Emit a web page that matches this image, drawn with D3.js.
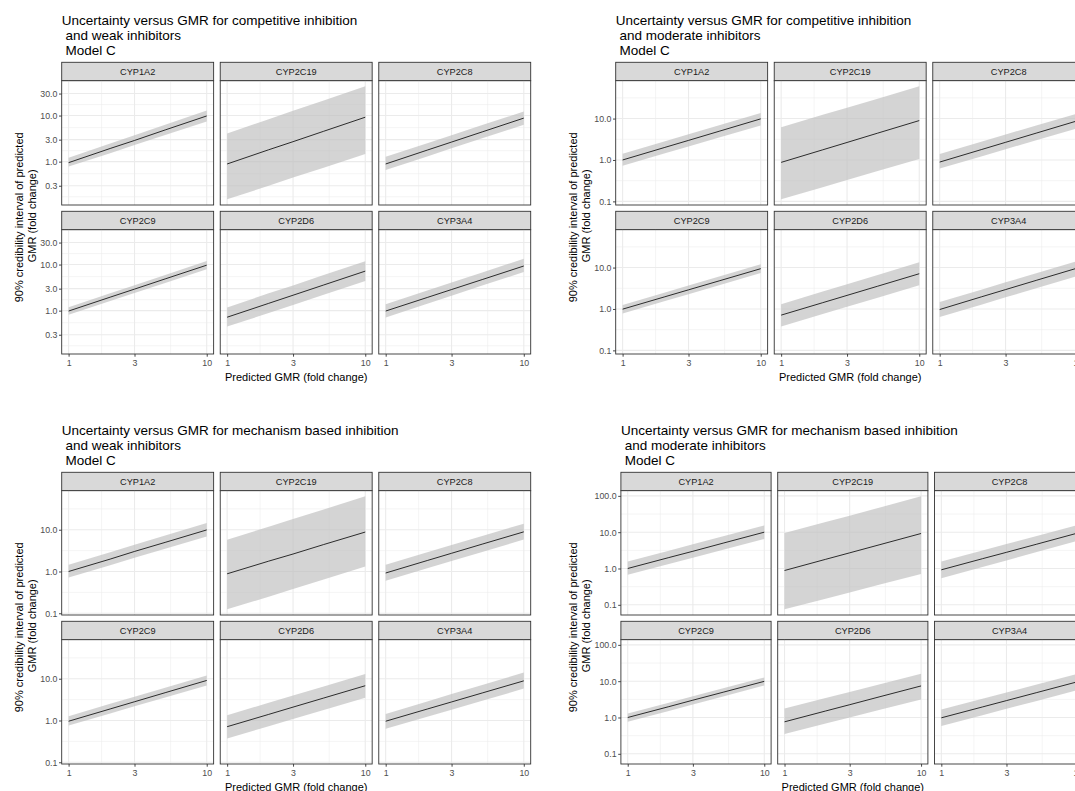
<!DOCTYPE html>
<html>
<head>
<meta charset="utf-8">
<script src="https://cdn.jsdelivr.net/npm/d3@7"></script>
<style>
  body { margin: 0; background: #ffffff; }
  text { font-family: "Liberation Sans", Arial, Helvetica, sans-serif; }
</style>
</head>
<body>
<svg id="chart" width="1075" height="791"></svg>
<script>
// Predicted GMR (fold change) at which the posterior summaries are tabulated
const gmrGrid = [1, 2, 3, 5, 10];
const enzymes = ["CYP1A2", "CYP2C19", "CYP2C8", "CYP2C9", "CYP2D6", "CYP3A4"];
const xTicks = [1, 3, 10];
const xTickLabels = ["1", "3", "10"];

// Competitive inhibition, weak inhibitors (rows follow `enzymes`)
const compWeakMedian = [
  [0.95, 1.93, 2.88, 4.87, 9.8],
  [0.89, 1.81, 2.71, 4.56, 9.2],
  [0.89, 1.78, 2.66, 4.42, 8.8],
  [0.98, 1.96, 2.93, 4.88, 9.7],
  [0.72, 1.44, 2.16, 3.6, 7.2],
  [0.98, 1.93, 2.87, 4.72, 9.3]
];
const compWeakLower = [
  [0.78, 1.53, 2.29, 3.77, 7.4],
  [0.152, 0.30, 0.45, 0.74, 1.47],
  [0.66, 1.30, 1.94, 3.2, 6.3],
  [0.81, 1.61, 2.41, 3.99, 7.9],
  [0.45, 0.89, 1.33, 2.2, 4.4],
  [0.71, 1.41, 2.10, 3.49, 6.9]
];
const compWeakUpper = [
  [1.22, 2.47, 3.75, 6.3, 12.8],
  [4.1, 8.3, 12.7, 21.1, 43],
  [1.28, 2.52, 3.76, 6.2, 12.2],
  [1.18, 2.37, 3.55, 5.92, 11.9],
  [1.17, 2.38, 3.52, 5.95, 11.8],
  [1.37, 2.72, 4.07, 6.75, 13.4]
];
const compWeakYTicks = [0.3, 1, 3, 10, 30];
const compWeakYLabels = ["0.3", "1.0", "3.0", "10.0", "30.0"];

// Competitive inhibition, moderate inhibitors
const compModMedian = [
  [1.0, 1.99, 2.97, 4.94, 9.85],
  [0.875, 1.76, 2.65, 4.45, 8.95],
  [0.89, 1.78, 2.67, 4.45, 8.9],
  [0.99, 1.95, 2.90, 4.77, 9.4],
  [0.71, 1.42, 2.13, 3.55, 7.1],
  [0.97, 1.96, 2.94, 4.91, 9.8]
];
const compModLower = [
  [0.73, 1.43, 2.12, 3.47, 6.8],
  [0.112, 0.22, 0.33, 0.54, 1.06],
  [0.62, 1.22, 1.82, 3.0, 5.9],
  [0.78, 1.54, 2.28, 3.76, 7.4],
  [0.38, 0.76, 1.13, 1.88, 3.75],
  [0.64, 1.27, 1.91, 3.16, 6.3]
];
const compModUpper = [
  [1.42, 2.81, 4.19, 6.92, 13.7],
  [6.2, 12.3, 18.3, 30.3, 60],
  [1.40, 2.76, 4.12, 6.8, 13.4],
  [1.25, 2.47, 3.68, 6.06, 12],
  [1.30, 2.63, 3.96, 6.66, 13.5],
  [1.48, 2.93, 4.40, 7.3, 14.5]
];
const compModYTicks = [0.1, 1, 10];
const compModYLabels = ["0.1", "1.0", "10.0"];

// Mechanism based inhibition, weak inhibitors
const mbiWeakMedian = [
  [1.0, 1.98, 3.02, 4.98, 9.9],
  [0.88, 1.77, 2.62, 4.42, 8.8],
  [0.92, 1.83, 2.73, 4.52, 8.9],
  [0.96, 1.89, 2.81, 4.63, 9.1],
  [0.71, 1.40, 2.09, 3.45, 6.8],
  [0.96, 1.88, 2.78, 4.56, 8.9]
];
const mbiWeakLower = [
  [0.72, 1.42, 2.12, 3.5, 6.9],
  [0.124, 0.25, 0.38, 0.64, 1.32],
  [0.60, 1.19, 1.78, 2.93, 5.8],
  [0.76, 1.48, 2.18, 3.56, 6.9],
  [0.37, 0.73, 1.08, 1.78, 3.5],
  [0.63, 1.23, 1.81, 2.97, 5.8]
];
const mbiWeakUpper = [
  [1.45, 2.9, 4.35, 7.25, 14.5],
  [5.75, 11.8, 18.0, 30.5, 63],
  [1.45, 2.88, 4.3, 7.1, 14.0],
  [1.27, 2.5, 3.71, 6.1, 12],
  [1.34, 2.65, 3.95, 6.5, 12.9],
  [1.44, 2.86, 4.28, 7.1, 14.1]
];
const mbiWeakYTicks = [0.1, 1, 10];
const mbiWeakYLabels = ["0.1", "1.0", "10.0"];

// Mechanism based inhibition, moderate inhibitors
const mbiModMedian = [
  [1.0, 2.0, 2.98, 5.0, 10],
  [0.88, 1.79, 2.7, 4.54, 9.2],
  [0.92, 1.86, 2.79, 4.68, 9.5],
  [1.0, 1.99, 3.0, 4.97, 9.9],
  [0.76, 1.51, 2.25, 3.74, 7.4],
  [0.98, 1.95, 2.92, 4.86, 9.7]
];
const mbiModLower = [
  [0.67, 1.33, 1.98, 3.28, 6.5],
  [0.075, 0.148, 0.22, 0.36, 0.71],
  [0.54, 1.1, 1.67, 2.84, 5.8],
  [0.76, 1.52, 2.28, 3.8, 7.6],
  [0.35, 0.68, 1.0, 1.63, 3.15],
  [0.58, 1.16, 1.73, 2.86, 5.7]
];
const mbiModUpper = [
  [1.56, 3.1, 4.63, 7.7, 15.3],
  [9.5, 19.0, 28.5, 48, 97],
  [1.56, 3.14, 4.73, 7.9, 15.8],
  [1.29, 2.56, 3.83, 6.35, 12.6],
  [1.78, 3.44, 5.05, 8.2, 15.9],
  [1.66, 3.29, 4.89, 8.1, 16]
];
const mbiModYTicks = [0.1, 1, 10, 100];
const mbiModYLabels = ["0.1", "1.0", "10.0", "100.0"];

const yTitle = ["90% credibility interval of predicted", " GMR (fold change)"];
const xTitle = "Predicted GMR (fold change)";

// Four faceted figures, each with its own title and y scale
const figures = [
  { title: ["Uncertainty versus GMR for competitive inhibition", " and weak inhibitors", " Model C"],
    median: compWeakMedian, lower: compWeakLower, upper: compWeakUpper,
    yTicks: compWeakYTicks, yLabels: compWeakYLabels, ox: 0, oy: 0, panelLeft: 61.7 },
  { title: ["Uncertainty versus GMR for competitive inhibition", " and moderate inhibitors", " Model C"],
    median: compModMedian, lower: compModLower, upper: compModUpper,
    yTicks: compModYTicks, yLabels: compModYLabels, ox: 554, oy: 0, panelLeft: 61.7 },
  { title: ["Uncertainty versus GMR for mechanism based inhibition", " and weak inhibitors", " Model C"],
    median: mbiWeakMedian, lower: mbiWeakLower, upper: mbiWeakUpper,
    yTicks: mbiWeakYTicks, yLabels: mbiWeakYLabels, ox: 0, oy: 410, panelLeft: 61.7 },
  { title: ["Uncertainty versus GMR for mechanism based inhibition", " and moderate inhibitors", " Model C"],
    median: mbiModMedian, lower: mbiModLower, upper: mbiModUpper,
    yTicks: mbiModYTicks, yLabels: mbiModYLabels, ox: 554, oy: 410, panelLeft: 66.9 }
];

const svg = d3.select("#chart");

const PANEL_H = 124.3;
const STRIP_H = 18.4;
const STRIP_TOP = 62.3;
const ROW_PITCH = 149;
const GAP = 6.6;
const PANELS_RIGHT = 530.7;
const TICK = 2.7;

function expandLog(ext) {
  const a = Math.log10(ext[0]), b = Math.log10(ext[1]);
  const d = (b - a) * 0.05;
  return [Math.pow(10, a - d), Math.pow(10, b + d)];
}

// Minor breaks sit halfway (in log space) between successive major breaks,
// with one extra break continued past each end of the sequence.
function minorBreaks(ticks, domain) {
  const l = ticks.map(Math.log10);
  const out = [];
  for (let i = 0; i < l.length - 1; i++) out.push((l[i] + l[i + 1]) / 2);
  const gLow = l.length > 2 ? l[2] - l[1] : l[1] - l[0];
  const gHigh = l.length > 2 ? l[l.length - 2] - l[l.length - 3] : l[1] - l[0];
  out.push(l[0] - gLow / 2);
  out.push(l[l.length - 1] + gHigh / 2);
  const lo = Math.log10(domain[0]), hi = Math.log10(domain[1]);
  return out.filter(v => v > lo && v < hi).map(v => Math.pow(10, v));
}

function drawFigure(f) {
  const root = svg.append("g").attr("transform", `translate(${f.ox},${f.oy})`);
  const pl = f.panelLeft;
  const pw = (PANELS_RIGHT - pl - 2 * GAP) / 3;

  const x = d3.scaleLog().domain(expandLog(d3.extent(gmrGrid))).range([0, pw]);
  const allVals = [].concat(f.lower.flat(), f.upper.flat(), f.median.flat());
  const y = d3.scaleLog().domain(expandLog(d3.extent(allVals))).range([PANEL_H, 0]);

  const xMinor = minorBreaks(xTicks, x.domain());
  const yMinor = minorBreaks(f.yTicks, y.domain());

  // title
  const title = root.append("text")
    .attr("x", pl).attr("y", 25.3)
    .attr("font-size", 13.5).attr("fill", "#000")
    .style("white-space", "pre");
  f.title.forEach((line, i) => {
    title.append("tspan").attr("x", pl).attr("y", 25.3 + i * 14.7).text(line);
  });

  const area = d3.area()
    .x(d => x(d.g))
    .y0(d => y(d.lo))
    .y1(d => y(d.hi));
  const line = d3.line()
    .x(d => x(d.g))
    .y(d => y(d.med));

  enzymes.forEach((enz, k) => {
    const col = k % 3, row = Math.floor(k / 3);
    const px = pl + col * (pw + GAP);
    const stripY = STRIP_TOP + row * ROW_PITCH;
    const py = stripY + STRIP_H;

    // strip
    root.append("rect")
      .attr("x", px).attr("y", stripY).attr("width", pw).attr("height", STRIP_H)
      .attr("fill", "#D9D9D9").attr("stroke", "#333333").attr("stroke-width", 0.9);
    root.append("text")
      .attr("x", px + pw / 2).attr("y", stripY + STRIP_H / 2 + 3.2)
      .attr("text-anchor", "middle").attr("font-size", 9.2).attr("fill", "#1A1A1A")
      .text(enz);

    const p = root.append("g").attr("transform", `translate(${px},${py})`);
    p.append("rect").attr("width", pw).attr("height", PANEL_H).attr("fill", "#ffffff");

    // grid
    p.selectAll(".ymin").data(yMinor).enter().append("line")
      .attr("x1", 0).attr("x2", pw).attr("y1", d => y(d)).attr("y2", d => y(d))
      .attr("stroke", "#EBEBEB").attr("stroke-width", 0.55);
    p.selectAll(".xmin").data(xMinor).enter().append("line")
      .attr("y1", 0).attr("y2", PANEL_H).attr("x1", d => x(d)).attr("x2", d => x(d))
      .attr("stroke", "#EBEBEB").attr("stroke-width", 0.55);
    p.selectAll(".ymaj").data(f.yTicks).enter().append("line")
      .attr("x1", 0).attr("x2", pw).attr("y1", d => y(d)).attr("y2", d => y(d))
      .attr("stroke", "#EBEBEB").attr("stroke-width", 1.1);
    p.selectAll(".xmaj").data(xTicks).enter().append("line")
      .attr("y1", 0).attr("y2", PANEL_H).attr("x1", d => x(d)).attr("x2", d => x(d))
      .attr("stroke", "#EBEBEB").attr("stroke-width", 1.1);

    const rows = gmrGrid.map((g, i) => ({
      g: g, med: f.median[k][i], lo: f.lower[k][i], hi: f.upper[k][i]
    }));

    p.append("path").datum(rows).attr("d", area)
      .attr("fill", "#BEBEBE").attr("fill-opacity", 0.66);
    p.append("path").datum(rows).attr("d", line)
      .attr("fill", "none").attr("stroke", "#000").attr("stroke-width", 0.8);

    p.append("rect").attr("width", pw).attr("height", PANEL_H)
      .attr("fill", "none").attr("stroke", "#333333").attr("stroke-width", 0.9);

    if (col === 0) {
      const ay = p.append("g").call(
        d3.axisLeft(y).tickValues(f.yTicks)
          .tickFormat((d, i) => f.yLabels[i])
          .tickSize(TICK).tickPadding(1.6));
      styleAxis(ay);
    }
    if (row === 1) {
      const ax = p.append("g").attr("transform", `translate(0,${PANEL_H})`).call(
        d3.axisBottom(x).tickValues(xTicks)
          .tickFormat((d, i) => xTickLabels[i])
          .tickSize(TICK).tickPadding(3.2));
      styleAxis(ax);
    }
  });

  // axis titles
  const panelTop = STRIP_TOP + STRIP_H;
  const panelBottom = STRIP_TOP + ROW_PITCH + STRIP_H + PANEL_H;
  const yMid = (panelTop + panelBottom) / 2;
  yTitle.forEach((t, i) => {
    root.append("text")
      .attr("transform", `translate(${22.5 + i * 13},${yMid}) rotate(-90)`)
      .attr("text-anchor", "middle").attr("font-size", 11).attr("fill", "#000")
      .style("white-space", "pre")
      .text(t);
  });
  root.append("text")
    .attr("x", (pl + PANELS_RIGHT) / 2).attr("y", panelBottom + 27)
    .attr("text-anchor", "middle").attr("font-size", 11).attr("fill", "#000")
    .text(xTitle);
}

function styleAxis(sel) {
  sel.select(".domain").remove();
  sel.selectAll(".tick line").attr("stroke", "#333333").attr("stroke-width", 0.9);
  sel.selectAll(".tick text")
    .attr("fill", "#4D4D4D")
    .attr("font-size", 8.8)
    .attr("font-family", "'Liberation Sans', Arial, sans-serif");
}

figures.forEach(drawFigure);
</script>
</body>
</html>
